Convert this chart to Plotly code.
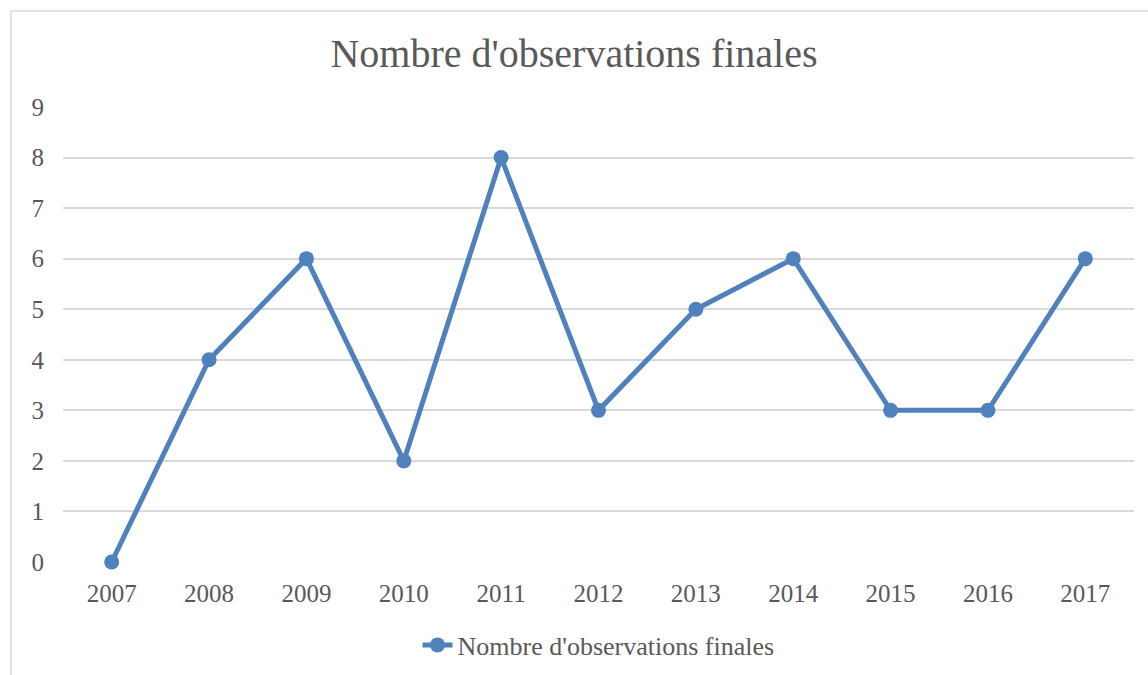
import plotly.graph_objects as go

years = ["2007", "2008", "2009", "2010", "2011", "2012", "2013", "2014", "2015", "2016", "2017"]
observations = [0, 4, 6, 2, 8, 3, 5, 6, 3, 3, 6]
series_name = "Nombre d'observations finales"
title_text = "Nombre d'observations finales"

FONT = "Liberation Serif"
TEXT = "#595959"
BLUE = "#4F81BD"
GRID = "#D9D9D9"

fig = go.Figure()
fig.add_trace(go.Scatter(
    x=years, y=observations, name=series_name, mode="lines+markers",
    line=dict(color=BLUE, width=5),
    marker=dict(color=BLUE, size=15),
    cliponaxis=False,
    showlegend=True,
))

W, H = 1148, 675
l, r, t, b = 63, 14, 107, 113
TOP_PX, BOT_PX = t, H - b

def px_x(px):
    return (px - l) / (W - l - r)

def px_y(py):
    return (BOT_PX - py) / (BOT_PX - TOP_PX)

fig.update_layout(
    width=W, height=H, autosize=False,
    margin=dict(l=l, r=r, t=t, b=b, autoexpand=False),
    paper_bgcolor="white", plot_bgcolor="white",
    font=dict(family=FONT, color=TEXT, size=25),
    title=dict(text=title_text, x=0.5, xanchor="center", y=1 - 53 / H, yanchor="middle",
               font=dict(family=FONT, size=40, color=TEXT)),
    xaxis=dict(type="category", range=[-0.5, 10.5], showgrid=False, zeroline=False,
               showline=False, ticks="", ticklabelstandoff=14, tickfont=dict(size=25, color=TEXT)),
    yaxis=dict(range=[0, 9], dtick=1, showgrid=True, gridcolor=GRID, gridwidth=1.5,
               zeroline=False, showline=False, ticks="", ticklabelstandoff=18,
               tickfont=dict(size=25, color=TEXT)),
    legend=dict(orientation="h", x=0.5, xanchor="center", yref="container",
                y=1 - 645 / H, yanchor="middle", font=dict(size=26, color=TEXT)),
    shapes=[dict(type="rect", xref="paper", yref="paper",
                 x0=px_x(11), x1=px_x(1160), y0=px_y(700), y1=px_y(11),
                 line=dict(color=GRID, width=1.5), fillcolor="rgba(0,0,0,0)", layer="below")],
)

fig.write_html("out.html", config={"displayModeBar": False},
               post_script="document.body.style.margin='0px';document.body.style.overflow='hidden';")
